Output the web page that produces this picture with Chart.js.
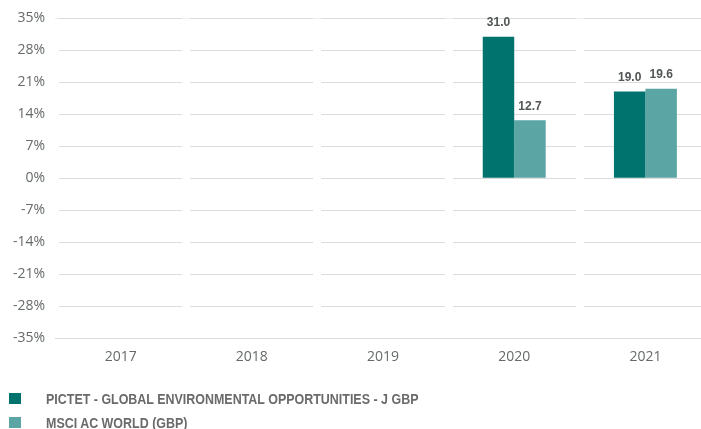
<!DOCTYPE html>
<html>
<head>
<meta charset="utf-8">
<script src="https://cdn.jsdelivr.net/npm/chart.js@4/dist/chart.umd.min.js"></script>
<style>
  html, body { margin: 0; padding: 0; background: #fff; overflow: hidden; width: 701px; height: 429px; }
  #wrap { position: relative; width: 701px; height: 429px; overflow: hidden; }
  #c { position: absolute; left: 0; top: 0; }
  #legend { position: absolute; left: 0; top: 0; width: 701px; height: 429px; pointer-events: none; }
  .li { position: absolute; left: 9px; height: 24px; font-family: "Liberation Sans", Arial, sans-serif; font-weight: bold; font-size: 14px; color: #6a6a6a; white-space: nowrap; }
  .sw { position: absolute; left: 0; width: 12px; height: 11px; }
  .tx { position: absolute; left: 37px; line-height: 14px; transform: scaleX(0.89); transform-origin: 0 50%; }
</style>
</head>
<body>
<div id="wrap">
  <canvas id="c" width="711" height="381"></canvas>
  <div id="legend"></div>
</div>
<script>
const categories = ['2017', '2018', '2019', '2020', '2021'];
const seriesNames = ['PICTET - GLOBAL ENVIRONMENTAL OPPORTUNITIES - J GBP', 'MSCI AC WORLD (GBP)'];
const fundValues = [null, null, null, 31.0, 19.0];
const indexValues = [null, null, null, 12.7, 19.6];
const yMin = -35;
const yMax = 35;
const yStep = 7;
const seriesColors = ['#00736f', '#5ba6a5'];

const valueLabels = {
  id: 'valueLabels',
  afterDatasetsDraw(chart) {
    const ctx = chart.ctx;
    ctx.save();
    ctx.font = 'bold 12px "Liberation Sans", Arial, sans-serif';
    ctx.fillStyle = '#505555';
    ctx.textAlign = 'center';
    ctx.textBaseline = 'middle';
    chart.data.datasets.forEach((ds, i) => {
      const meta = chart.getDatasetMeta(i);
      meta.data.forEach((bar, j) => {
        const v = ds.data[j];
        if (v === null || v === undefined) return;
        ctx.fillText(v.toFixed(1), bar.x, bar.y - 14);
      });
    });
    ctx.restore();
  }
};

const chart = new Chart(document.getElementById('c'), {
  type: 'bar',
  data: {
    labels: categories,
    datasets: [
      { label: seriesNames[0], data: fundValues, backgroundColor: seriesColors[0], borderWidth: 0 },
      { label: seriesNames[1], data: indexValues, backgroundColor: seriesColors[1], borderWidth: 0 }
    ]
  },
  options: {
    responsive: false,
    animation: false,
    devicePixelRatio: 1,
    layout: { padding: { top: 17, left: 3, right: 0, bottom: 6 } },
    plugins: { legend: { display: false }, tooltip: { enabled: false } },
    datasets: { bar: { categoryPercentage: 0.48, barPercentage: 1.0 } },
    scales: {
      x: {
        grid: { display: true, offset: true, color: '#ffffff', lineWidth: 8, drawTicks: false, z: 0 },
        border: { display: false },
        ticks: { color: '#666a6a', padding: 10, font: { family: '"Open Sans", sans-serif', size: 14 } }
      },
      y: {
        min: yMin,
        max: yMax,
        grid: { color: '#dcdcdc', lineWidth: 1, drawTicks: false },
        border: { display: false },
        ticks: {
          stepSize: yStep,
          color: '#666a6a',
          padding: 10,
          font: { family: '"Open Sans", sans-serif', size: 14 },
          callback: v => v + '%'
        }
      }
    }
  },
  plugins: [valueLabels]
});

const legend = document.getElementById('legend');
const legendTops = [391, 415];
chart.data.datasets.forEach((ds, i) => {
  const row = document.createElement('div');
  row.className = 'li';
  row.style.top = legendTops[i] + 'px';
  const sw = document.createElement('span');
  sw.className = 'sw';
  sw.style.background = ds.backgroundColor;
  sw.style.top = '2px';
  const tx = document.createElement('span');
  tx.className = 'tx';
  tx.textContent = ds.label;
  tx.style.top = '1px';
  row.appendChild(sw);
  row.appendChild(tx);
  legend.appendChild(row);
});
</script>
</body>
</html>
